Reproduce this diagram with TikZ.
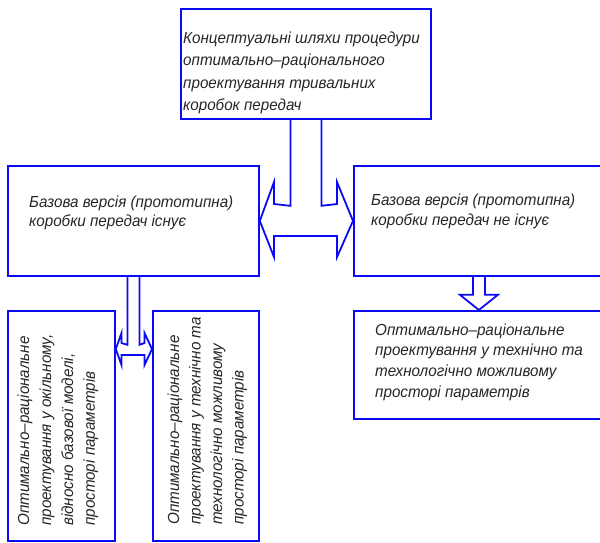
\documentclass[tikz,border=0pt]{standalone}
\usepackage{fontspec}
\newfontfamily\gost{Liberation Sans}[FakeStretch=0.95]
\usetikzlibrary{calc}
\definecolor{lineblue}{RGB}{10,10,245}
\tikzset{
  boxnode/.style={draw=lineblue, line width=1.8pt, rectangle, inner sep=0pt},
  txt/.style={inner sep=0pt, anchor=base west, font=\gost\itshape\fontsize{16}{19}\selectfont, text=black!85},
  fatarrow/.style={draw=lineblue, line width=1.8pt, line join=miter},
}
\newcommand{\boxtext}[2]{\parbox[t]{330pt}{\raggedright\setlength{\baselineskip}{#1}#2\par}}
\begin{document}
\begin{tikzpicture}[x=1pt,y=-1pt]
\clip (0,0) rectangle (600,542);
% boxes
\node[boxnode, minimum width=250pt, minimum height=110pt, anchor=north west] (T) at (180,8) {};
\node[boxnode, minimum width=251pt, minimum height=110pt, anchor=north west] (L) at (7,165) {};
\node[boxnode, minimum width=250pt, minimum height=110pt, anchor=north west] (R) at (353,165) {};
\node[boxnode, minimum width=250pt, minimum height=108pt, anchor=north west] (RB) at (353,310) {};
\node[boxnode, minimum width=107pt, minimum height=230pt, anchor=north west] (B1) at (7,310) {};
\node[boxnode, minimum width=106pt, minimum height=230pt, anchor=north west] (B2) at (152,310) {};
% texts
\node[txt] (tT) at (183,43) {\boxtext{22.5pt}{Концептуальні шляхи процедури\\оптимально–раціонального\\проектування тривальних\\коробок передач}};
\node[txt] (tL) at (29,207.5) {\boxtext{19pt}{Базова версія (прототипна)\\коробки передач існує}};
\node[txt] (tR) at (371,205) {\boxtext{20pt}{Базова версія (прототипна)\\коробки передач не існує}};
\node[txt] (tRB) at (375,335) {\boxtext{20.7pt}{Оптимально–раціональне\\проектування у технічно та\\технологічно можливому\\просторі параметрів}};
\node[txt, rotate=90] (tB1) at (29,526) {\boxtext{22pt}{Оптимально–раціональне\\проектування у окільному,\\відносно базової моделі,\\просторі параметрів}};
\node[txt, rotate=90] (tB2) at (179,525) {\boxtext{21.5pt}{Оптимально–раціональне\\проектування у технічно та\\технологічно можливому\\просторі параметрів}};
% big double arrow from T to L and R
\draw[fatarrow] ($(T.south)+(-15.5,0)$) -- ++(0,86) -- (274,204) -- (274,182) -- (L.east)
  -- (274,257) -- (274,236) -- (337,236) -- (337,257) -- (R.west) -- (337,182) -- (337,204)
  -- ($(T.south)+(15.5,204-118)$) -- ($(T.south)+(15.5,0)$);
% small double arrow from L to B1 and B2
\draw[fatarrow] ($(L.south)+(-6,0)$) -- ($(L.south)+(-6,68)$) -- (121.5,343) -- (121.5,333) -- (B1.east |- 0,349)
  -- (121.5,365) -- (121.5,355) -- (144.5,355) -- (144.5,365) -- (B2.west |- 0,349) -- (144.5,333) -- (144.5,343)
  -- ($(L.south)+(6,68)$) -- ($(L.south)+(6,0)$);
% down arrow from R to RB
\draw[fatarrow] ($(R.south)+(-6,0)$) -- ($(R.south)+(-6,18)$) -- ($(R.south)+(-19,18)$) -- (RB.north)
  -- ($(R.south)+(19,18)$) -- ($(R.south)+(6,18)$) -- ($(R.south)+(6,0)$);
\end{tikzpicture}
\end{document}
